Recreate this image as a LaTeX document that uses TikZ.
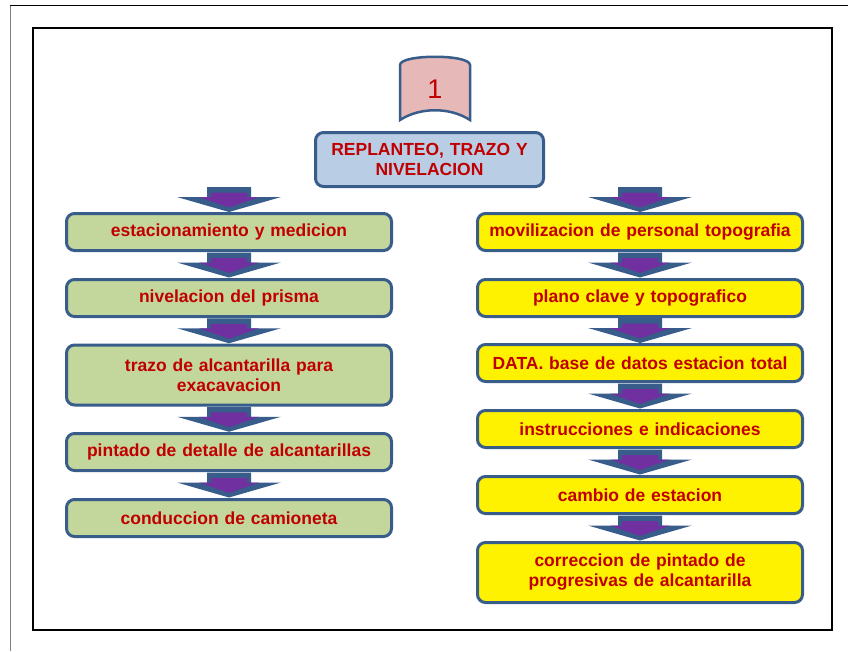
\documentclass[tikz,border=0pt]{standalone}
\usepackage{fontspec}
\setmainfont{Liberation Sans}
\usetikzlibrary{calc}
\definecolor{boxblue}{RGB}{56,93,138}
\definecolor{boxred}{RGB}{192,0,0}
\definecolor{boxgreen}{RGB}{195,214,155}
\definecolor{titleblue}{RGB}{185,205,229}
\definecolor{tabpink}{RGB}{230,185,184}
\definecolor{arrowpurple}{RGB}{112,48,160}
\begin{document}
\begin{tikzpicture}[x=1pt, y=-1pt,
  stepbox/.style={draw=boxblue, line width=3pt, rounded corners=8pt,
    align=center, text width=313pt, inner xsep=6pt, inner ysep=2pt,
    text=boxred, font=\bfseries\fontsize{17.5}{20}\selectfont},
  greenbox/.style={stepbox, fill=boxgreen},
  yellowbox/.style={stepbox, fill=yellow},
  downarrow/.pic={
    \fill[boxblue] (-22,-12.5) -- (22,-12.5) -- (22,-2.5) -- (52,-2.5)
      -- (0,12.5) -- (-52,-2.5) -- (-22,-2.5) -- cycle;
    \fill[arrowpurple] (-18,-7) -- (18,-7) -- (18,-2.5) -- (30,-2.5)
      -- (0,8) -- (-30,-2.5) -- (-18,-2.5) -- cycle;}]
\useasboundingbox (0,0) rectangle (848,651);
% page edge and frame
\draw[gray, line width=1pt] (10,651) -- (10,5);
\draw[line width=1pt] (10,5) -- (848,5);
\draw[line width=2pt] (33,28) rectangle (832,630);
% number tab
\draw[boxblue, fill=tabpink, line width=2.5pt]
  (400,120) -- (400,65) .. controls (400,54) and (470,54) .. (470,65)
  -- (470,120) .. controls (450,107) and (420,107) .. (400,120) -- cycle;
\node[text=boxred, font=\fontsize{27}{30}\selectfont] (num) at (435,89) {1};
% title
\node[stepbox, fill=titleblue, text width=216pt, minimum height=54pt]
  (title) at (429.5,159.5) {REPLANTEO, TRAZO Y\\NIVELACION};
% left column
\foreach \y/\h/\t [count=\i] in {232/37/estacionamiento y medicion,
    298/37/nivelacion del prisma,
    375/60/{trazo de alcantarilla para\\exacavacion},
    452/37/pintado de detalle de alcantarillas,
    518/37/conduccion de camioneta}
  \node[greenbox, minimum height=\h] (l\i) at (229,\y) {\t};
% right column
\foreach \y/\h/\t [count=\i] in {232/37/movilizacion de personal topografia,
    298/37/plano clave y topografico,
    363/37/DATA. base de datos estacion total,
    429/37/instrucciones e indicaciones,
    495/37/cambio de estacion,
    572.5/60/{correccion de pintado de\\progresivas de alcantarilla}}
  \node[yellowbox, minimum height=\h] (r\i) at (640,\y) {\t};
% arrows
\coordinate (ltop) at ($(l1.north)+(0,-25)$);
\coordinate (rtop) at ($(r1.north)+(0,-25)$);
\pic at ($(ltop)!0.5!(l1.north)$) {downarrow};
\pic at ($(rtop)!0.5!(r1.north)$) {downarrow};
\foreach \a/\b in {1/2, 2/3, 3/4, 4/5}
  \pic at ($(l\a.south)!0.5!(l\b.north)$) {downarrow};
\foreach \a/\b in {1/2, 2/3, 3/4, 4/5, 5/6}
  \pic at ($(r\a.south)!0.5!(r\b.north)$) {downarrow};
\end{tikzpicture}
\end{document}
